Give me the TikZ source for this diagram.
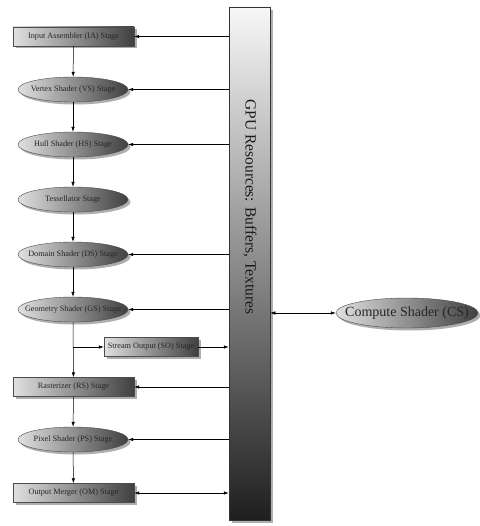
\documentclass[tikz,border=0pt]{standalone}
\usepackage{fontspec}
\setmainfont{Liberation Serif}
\usetikzlibrary{shapes.geometric,shadows,arrows.meta}
\newcommand{\zerowidth}[1]{\makebox[0pt][c]{#1}}
\tikzset{
  stagebase/.style={draw=black!70, line width=0.4pt, left color=black!12, right color=black!75,
    font=\fontsize{8.2}{9}\selectfont, text=black!85, inner sep=0pt,
    drop shadow={shadow xshift=2.5pt, shadow yshift=-2.5pt, opacity=0.45, fill=black!70}},
  rectstage/.style={stagebase, rectangle, minimum width=121pt, minimum height=19pt},
  ellstage/.style={stagebase, ellipse, minimum width=110pt, minimum height=25pt},
  conn/.style={line width=0.5pt, -{Latex[length=5pt,width=3.4pt]}},
  biconn/.style={line width=0.5pt, {Latex[length=5pt,width=3.4pt]}-{Latex[length=5pt,width=3.4pt]}}
}
\begin{document}
\begin{tikzpicture}[x=1pt,y=-1pt]
\useasboundingbox (0,0) rectangle (479,526);
\fill[white] (0,0) rectangle (479,526);
% GPU resources bar
\node[draw=black!80, line width=0.5pt, top color=black!3, bottom color=black!88, minimum width=41pt, minimum height=513pt, inner sep=0pt,
  drop shadow={shadow xshift=3pt, shadow yshift=-3pt, opacity=0.45, fill=black!70}] (gpu) at (249.5,263.5) {};
\node[rotate=-90, font=\fontsize{15.5}{17}\selectfont, text=black!90] (gputxt) at (250,207) {GPU Resources: Buffers, Textures};
% stages
\node[rectstage] (ia) at (73.5,36.5) {Input Assembler (IA) Stage};
\node[ellstage] (vs) at (73,89.5) {\zerowidth{Vertex Shader (VS) Stage}};
\node[ellstage] (hs) at (73,144.5) {\zerowidth{Hull Shader (HS) Stage}};
\node[ellstage] (ts) at (73,199.5) {\zerowidth{Tessellator Stage}};
\node[ellstage] (ds) at (73,254.5) {\zerowidth{Domain Shader (DS) Stage}};
\node[ellstage] (gs) at (73,309.5) {\zerowidth{Geometry Shader (GS) Stage}};
\node[rectstage, minimum width=94pt] (so) at (151,347) {\zerowidth{Stream Output (SO) Stage}};
\node[rectstage] (rs) at (73.5,387) {Rasterizer (RS) Stage};
\node[ellstage] (ps) at (73,439.5) {\zerowidth{Pixel Shader (PS) Stage}};
\node[rectstage] (om) at (73.5,493) {Output Merger (OM) Stage};
\node[ellstage, minimum width=142pt, minimum height=30pt, font=\fontsize{14}{16}\selectfont] (cs) at (407,313) {\zerowidth{Compute Shader (CS)}};
\coordinate (branch) at (73,347);
% pipeline connectors
\draw[conn] (ia) -- (vs);
\draw[conn] (vs) -- (hs);
\draw[conn] (hs) -- (ts);
\draw[conn] (ts) -- (ds);
\draw[conn] (ds) -- (gs);
\draw[conn] (gs) -- (rs);
\draw[conn] (branch) -- (so.west);
\draw[conn] (rs) -- (ps);
\draw[conn] (ps) -- (om);
% resource connectors
\draw[conn] (gpu.west |- ia.east) -- (ia.east);
\draw[conn] (gpu.west |- vs.east) -- (vs.east);
\draw[conn] (gpu.west |- hs.east) -- (hs.east);
\draw[conn] (gpu.west |- ds.east) -- (ds.east);
\draw[conn] (gpu.west |- gs.east) -- (gs.east);
\draw[conn] (so.east) -- (gpu.west |- so.east);
\draw[conn] (gpu.west |- rs.east) -- (rs.east);
\draw[conn] (gpu.west |- ps.east) -- (ps.east);
\draw[biconn] (om.east) -- (gpu.west |- om.east);
\draw[biconn] (gpu.east |- cs.west) -- (cs.west);
\end{tikzpicture}
\end{document}
